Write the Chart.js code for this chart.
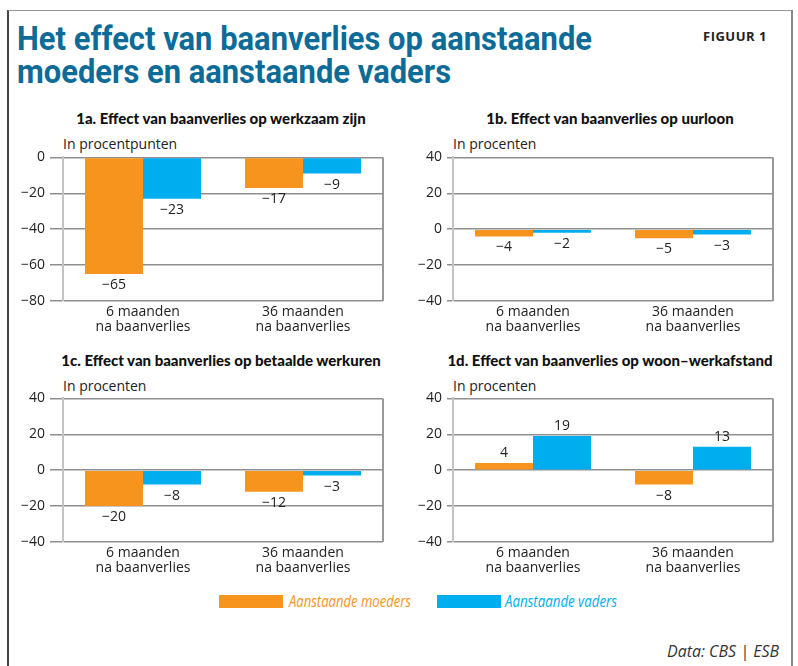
<!DOCTYPE html>
<html>
<head>
<meta charset="utf-8">
<script src="https://cdn.jsdelivr.net/npm/chart.js"></script>
<style>
  body { margin: 0; background: #fff; }
  #wrap { position: relative; width: 798px; height: 666px; overflow: hidden; background: #fff; }
  #frame { position: absolute; left: 7px; top: 10px; width: 782px; height: 700px;
           border-top: 1px solid #999; border-left: 2px solid #444; border-right: 2px solid #888; }
  .abs { position: absolute; white-space: nowrap; }
  #title { left: 17px; top: 22px; font: bold 34px/33px Roboto, sans-serif; color: #0c6b97; transform-origin: left top; }
  #fig { left: 703px; top: 27px; font: bold 13px "Open Sans", sans-serif; color: #222; letter-spacing: 0.5px; }
  .ptitle { font: 900 15px Lato, sans-serif; color: #111; transform: translateX(-50%); }
  .unit { font: 14px "Open Sans", sans-serif; color: #222; }
  .legbox { width: 64px; height: 13px; }
  .legtxt { font: italic 16px "Open Sans", sans-serif; transform-origin: left top; }
  #src { left: 667px; top: 639px; font: italic 17px "Open Sans", sans-serif; color: #333; transform-origin: left top; }
  canvas { position: absolute; }
</style>
</head>
<body>
<div id="wrap">
  <div id="frame"></div>
  <div id="title" class="abs" data-w="575">Het effect van baanverlies op aanstaande<br>moeders en aanstaande vaders</div>
  <div id="fig" class="abs">FIGUUR 1</div>

  <div class="abs ptitle" style="left:221px; top:109px">1a. Effect van baanverlies op werkzaam zijn</div>
  <div class="abs ptitle" style="left:610px; top:109px">1b. Effect van baanverlies op uurloon</div>
  <div class="abs ptitle" style="left:221px; top:351px">1c. Effect van baanverlies op betaalde werkuren</div>
  <div class="abs ptitle" style="left:610px; top:351px">1d. Effect van baanverlies op woon–werkafstand</div>

  <div class="abs unit" style="left:63px; top:134px">In procentpunten</div>
  <div class="abs unit" style="left:453px; top:134px">In procenten</div>
  <div class="abs unit" style="left:63px; top:376px">In procenten</div>
  <div class="abs unit" style="left:453px; top:376px">In procenten</div>

  <canvas id="c1a" style="left:0px; top:144px" width="400" height="198"></canvas>
  <canvas id="c1b" style="left:400px; top:144px" width="398" height="198"></canvas>
  <canvas id="c1c" style="left:0px; top:385px" width="400" height="198"></canvas>
  <canvas id="c1d" style="left:400px; top:385px" width="398" height="198"></canvas>

  <div class="abs legbox" style="left:219px; top:595px; background:#f7941d"></div>
  <div class="abs legtxt" style="left:289px; top:590px; color:#f7941d" data-w="122">Aanstaande moeders</div>
  <div class="abs legbox" style="left:437px; top:595px; background:#00aeef"></div>
  <div class="abs legtxt" style="left:505px; top:590px; color:#00aeef" data-w="112">Aanstaande vaders</div>

  <div id="src" class="abs" data-w="112">Data: CBS | ESB</div>
</div>

<script>
// categories and values
const categories = [['6 maanden', 'na baanverlies'], ['36 maanden', 'na baanverlies']];
const seriesNames = ['Aanstaande moeders', 'Aanstaande vaders'];

const moeders1a = [-65, -17];
const vaders1a  = [-23, -9];
const moeders1b = [-4, -5];
const vaders1b  = [-2, -3];
const moeders1c = [-20, -12];
const vaders1c  = [-8, -3];
const moeders1d = [4, -8];
const vaders1d  = [19, 13];

const ticks1a = [-80, -60, -40, -20, 0];
const ticksPct = [-40, -20, 0, 20, 40];

const ORANGE = '#f7941d';
const BLUE = '#00aeef';
const FONT = "'Open Sans', sans-serif";

// squeeze text blocks to the width they have in the original
document.querySelectorAll('[data-w]').forEach(el => {
    const w = el.getBoundingClientRect().width;
    el.style.transform = 'scaleX(' + (Number(el.dataset.w) / w) + ')';
});

function minus(v) {
    return String(v).replace('-', '\u2212');
}

// value labels at the bar ends + right edge of the plot box
const barLabels = {
    id: 'barLabels',
    afterDatasetsDraw(chart) {
        const ctx = chart.ctx;
        ctx.save();
        ctx.font = '14px ' + FONT;
        ctx.fillStyle = '#222';
        ctx.textAlign = 'center';
        ctx.textBaseline = 'middle';
        chart.data.datasets.forEach((ds, i) => {
            chart.getDatasetMeta(i).data.forEach((bar, j) => {
                const v = ds.data[j];
                const y = v < 0 ? bar.y + 11 : bar.y - 10;
                ctx.fillText(minus(v), bar.x, y);
            });
        });
        const a = chart.chartArea;
        ctx.strokeStyle = '#999';
        ctx.lineWidth = 2;
        ctx.beginPath();
        ctx.moveTo(a.right, a.top);
        ctx.lineTo(a.right, a.bottom);
        ctx.stroke();
        ctx.restore();
    }
};

function drawPanel(id, moeders, vaders, ticks, yWidth, tickLen, padRight) {
    const data = {
        labels: categories,
        datasets: [
            { label: seriesNames[0], data: moeders, backgroundColor: ORANGE },
            { label: seriesNames[1], data: vaders, backgroundColor: BLUE }
        ]
    };

    const config = {
        type: 'bar',
        data: data,
        options: {
            responsive: false,
            animation: false,
            layout: { padding: { top: 7, right: padRight, left: 0, bottom: 0 } },
            datasets: { bar: { categoryPercentage: 0.725, barPercentage: 1 } },
            plugins: { legend: { display: false }, tooltip: { enabled: false } },
            scales: {
                x: {
                    grid: { display: false, drawTicks: false },
                    border: { display: false },
                    ticks: { color: '#222', font: { family: FONT, size: 14, lineHeight: 1.05 }, padding: 4, maxRotation: 0 },
                    afterFit(scale) { scale.height = 41; }
                },
                y: {
                    min: ticks[0],
                    max: ticks[ticks.length - 1],
                    afterBuildTicks(scale) { scale.ticks = ticks.map(v => ({ value: v })); },
                    grid: { color: '#8f8f8f', lineWidth: 1.5, tickLength: tickLen, drawTicks: true },
                    border: { color: '#c4c4c4', width: 2 },
                    ticks: {
                        color: '#222',
                        font: { family: FONT, size: 14 },
                        padding: 5,
                        callback: v => minus(v)
                    },
                    afterFit(scale) { scale.width = yWidth; }
                }
            }
        },
        plugins: [barLabels]
    };

    new Chart(document.getElementById(id), config);
}

drawPanel('c1a', moeders1a, vaders1a, ticks1a, 63, 13, 17);
drawPanel('c1b', moeders1b, vaders1b, ticksPct, 53, 6, 25);
drawPanel('c1c', moeders1c, vaders1c, ticksPct, 63, 13, 17);
drawPanel('c1d', moeders1d, vaders1d, ticksPct, 53, 6, 25);
</script>
</body>
</html>
